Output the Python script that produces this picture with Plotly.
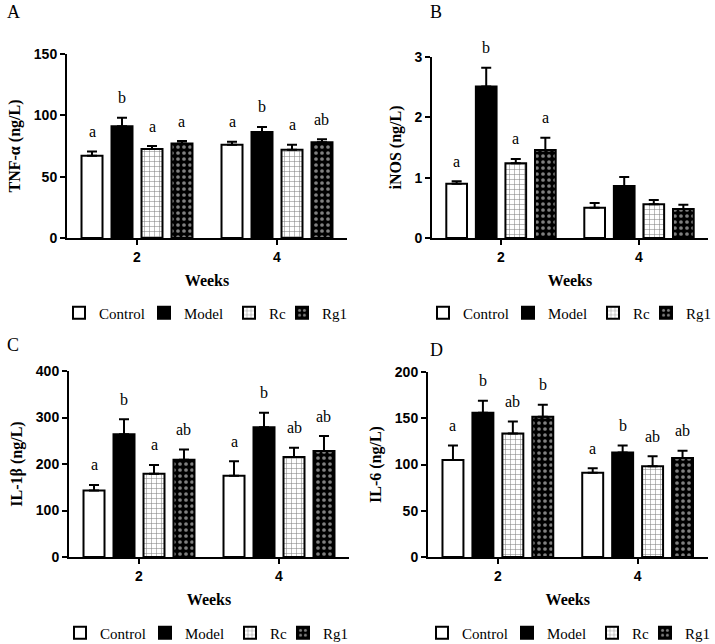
import plotly.graph_objects as go

# ---------------- data ----------------
weeks = ["2", "4"]
groups = ["Control", "Model", "Rc", "Rg1"]

# rows = groups (Control, Model, Rc, Rg1); columns = weeks (2, 4)
tnf_mean = [[67, 76], [91, 86.5], [72.5, 72], [77, 78]]
tnf_err = [[3.5, 2.5], [7, 4], [2.5, 4], [2, 2.5]]
tnf_letters = [["a", "a"], ["b", "b"], ["a", "a"], ["a", "ab"]]

inos_mean = [[0.90, 0.50], [2.51, 0.86], [1.24, 0.56], [1.46, 0.48]]
inos_err = [[0.04, 0.08], [0.31, 0.15], [0.07, 0.07], [0.20, 0.07]]
inos_letters = [["a", ""], ["b", ""], ["a", ""], ["a", ""]]

il1b_mean = [[143, 175], [264, 279], [179, 215], [209, 228]]
il1b_err = [[12, 31], [32, 31], [19, 20], [22, 32]]
il1b_letters = [["a", "a"], ["b", "b"], ["a", "ab"], ["ab", "ab"]]

il6_mean = [[105, 91], [156, 113], [133.5, 98], [151.5, 107]]
il6_err = [[15.5, 5], [13, 7.5], [13, 11], [13, 8]]
il6_letters = [["a", "a"], ["b", "b"], ["ab", "ab"], ["b", "ab"]]

tnf_ticks = [0, 50, 100, 150]
inos_ticks = [0, 1, 2, 3]
il1b_ticks = [0, 100, 200, 300, 400]
il6_ticks = [0, 50, 100, 150, 200]

# ---------------- layout helpers ----------------
W, H = 715, 644
SERIF = "Liberation Serif, Times New Roman, serif"
SANS = "Liberation Sans, Arial, sans-serif"
BARGAP = 0.143
SLOT = (1 - BARGAP) / 4


def px_x(p):
    return p / W


def px_y(p):
    return 1 - p / H


panels = [
    dict(label="A", title="TNF-α (ng/L)", mean=tnf_mean, err=tnf_err, letters=tnf_letters,
         ticks=tnf_ticks, xdom=[67, 347], ydom=[238, 54], lab=(13, 12),
         legend="legend", leg_y=313, leg_x=79),
    dict(label="B", title="iNOS (ng/L)", mean=inos_mean, err=inos_err, letters=inos_letters,
         ticks=inos_ticks, xdom=[432, 708], ydom=[238, 57], lab=(436, 12),
         legend="legend2", leg_y=313, leg_x=443),
    dict(label="C", title="IL-1β (ng/L)", mean=il1b_mean, err=il1b_err, letters=il1b_letters,
         ticks=il1b_ticks, xdom=[69, 349], ydom=[557, 371], lab=(13, 345),
         legend="legend3", leg_y=633, leg_x=80),
    dict(label="D", title="IL-6 (ng/L)", mean=il6_mean, err=il6_err, letters=il6_letters,
         ticks=il6_ticks, xdom=[428, 707.5], ydom=[557, 372], lab=(436, 350),
         legend="legend4", leg_y=633, leg_x=442),
]

styles = {
    "Control": dict(color="white"),
    "Model": dict(color="black"),
    "Rc": dict(color="white", pattern=dict(shape="+", fgcolor="black", bgcolor="white",
                                           size=5, solidity=0.2)),
    "Rg1": dict(color="black", pattern=dict(shape=".", fgcolor="white", bgcolor="black",
                                            size=6, solidity=0.3)),
}
legend_widths = {"Control": 40, "Model": 40, "Rc": 8, "Rg1": None}

fig = go.Figure()
annotations = []
layout = {}

for k, p in enumerate(panels):
    ax = "" if k == 0 else str(k + 1)
    xa, ya = "x" + ax, "y" + ax
    for j, g in enumerate(groups):
        st = styles[g]
        marker = dict(color=st["color"], line=dict(color="black", width=2))
        if "pattern" in st:
            marker["pattern"] = st["pattern"]
        kw = {}
        if legend_widths[g]:
            kw["legendwidth"] = legend_widths[g]
        fig.add_trace(go.Bar(
            x=weeks, y=p["mean"][j], name=g, marker=marker,
            error_y=dict(type="data", array=p["err"][j], arrayminus=[0, 0],
                         symmetric=False, color="black", thickness=2, width=5),
            xaxis=xa, yaxis=ya, legend=p["legend"], **kw))
        for i in range(len(weeks)):
            t = p["letters"][j][i]
            if t:
                annotations.append(dict(
                    x=i + (j - 1.5) * SLOT, y=p["mean"][j][i] + p["err"][j][i],
                    xref=xa, yref=ya, text=t, showarrow=False,
                    yanchor="middle", yshift=20,
                    font=dict(family=SERIF, size=16, color="black")))
    annotations.append(dict(
        x=px_x(p["lab"][0]), y=px_y(p["lab"][1]), xref="paper", yref="paper",
        text=p["label"], showarrow=False, xanchor="center", yanchor="middle",
        font=dict(family=SERIF, size=18, color="black")))

    layout["xaxis" + ax] = dict(
        domain=[px_x(p["xdom"][0]), px_x(p["xdom"][1])], anchor=ya,
        type="category", range=[-0.5, 1.5], showline=True, linecolor="black",
        linewidth=2, ticks="outside", ticklen=5, tickwidth=2, tickcolor="black",
        showgrid=False, zeroline=False,
        tickfont=dict(family=SANS, size=14, color="black", weight="bold"),
        title=dict(text="Weeks", standoff=11,
                   font=dict(family=SERIF, size=16, color="black", weight="bold")))
    layout["yaxis" + ax] = dict(
        domain=[px_y(p["ydom"][0]), px_y(p["ydom"][1])], anchor=xa,
        range=[p["ticks"][0], p["ticks"][-1]], tickvals=p["ticks"],
        showline=True, linecolor="black", linewidth=2, ticks="outside",
        ticklen=5, tickwidth=2, tickcolor="black", showgrid=False, zeroline=False,
        tickfont=dict(family=SANS, size=14, color="black", weight="bold"),
        title=dict(text=p["title"], standoff=9,
                   font=dict(family=SERIF, size=16, color="black", weight="bold")))
    layout[p["legend"]] = dict(
        orientation="h", x=px_x(p["leg_x"] - 20), xanchor="left",
        y=px_y(p["leg_y"]), yanchor="middle", itemwidth=30,
        bgcolor="rgba(0,0,0,0)", borderwidth=0,
        font=dict(family=SERIF, size=15, color="black"))

fig.update_layout(
    width=W, height=H, margin=dict(l=0, r=0, t=0, b=0, autoexpand=False),
    paper_bgcolor="white", plot_bgcolor="white",
    barmode="group", bargap=BARGAP, bargroupgap=0.3,
    annotations=annotations, **layout)

fig.write_html("out.html", config={"displayModeBar": False},
               post_script="document.body.style.margin='0';document.body.style.overflow='hidden';")
